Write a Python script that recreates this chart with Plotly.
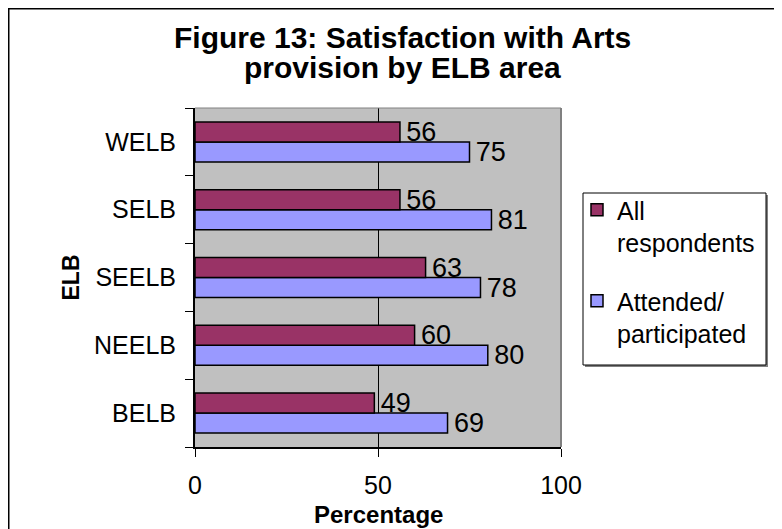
import plotly.graph_objects as go

categories = ["BELB", "NEELB", "SEELB", "SELB", "WELB"]
all_respondents = [49, 60, 63, 56, 56]
attended = [69, 80, 78, 81, 75]
series_names = ["All<br>respondents", "Attended/<br>participated"]
x_ticks = [0, 50, 100]
title_lines = ["Figure 13: Satisfaction with Arts", "provision by ELB area"]
x_title = "Percentage"
y_title = "ELB"

FONT = "Liberation Sans, Arial, sans-serif"
W, H = 782, 529
OFF = 8  # page body margin
# plot area in screen pixels
L, R, T, B = 195, 561, 108, 447


def px2x(p):
    return (p - L) / (R - L)


def py2y(p):
    return (B - p) / (B - T)


label_tmpl = "<span style='font-size:12px'>&nbsp;</span>%{x}"

fig = go.Figure()
fig.add_trace(go.Bar(
    y=categories, x=attended, orientation="h", name=series_names[1],
    marker=dict(color="#9999FF", line=dict(color="black", width=1.5)),
    texttemplate=label_tmpl, textposition="outside", legendgroup="b", legendrank=2,
    textfont=dict(size=27, color="black", family=FONT),
    constraintext="none", cliponaxis=False,
))
fig.add_trace(go.Bar(
    y=categories, x=all_respondents, orientation="h", name=series_names[0],
    marker=dict(color="#993366", line=dict(color="black", width=1.5)),
    texttemplate=label_tmpl, textposition="outside", legendgroup="a", legendrank=1,
    textfont=dict(size=27, color="black", family=FONT),
    constraintext="none", cliponaxis=False,
))

annotations = [
    dict(text="<b>%s</b>" % title_lines[0], xref="paper", yref="paper",
         x=px2x(402), y=py2y(38), xanchor="center", yanchor="middle",
         showarrow=False, font=dict(size=30, family=FONT, color="black")),
    dict(text="<b>%s</b>" % title_lines[1], xref="paper", yref="paper",
         x=px2x(402), y=py2y(68), xanchor="center", yanchor="middle",
         showarrow=False, font=dict(size=30, family=FONT, color="black")),
    dict(text="<b>%s</b>" % x_title, xref="paper", yref="paper",
         x=0.5, y=py2y(514), xanchor="center", yanchor="middle",
         showarrow=False, font=dict(size=24, family=FONT, color="black")),
]

fig.update_layout(
    width=W, height=H,
    margin=dict(l=L - OFF, r=W - (R - OFF), t=T - OFF, b=H - (B - OFF), autoexpand=False),
    paper_bgcolor="white",
    plot_bgcolor="#C0C0C0",
    barmode="group", bargap=0.41, bargroupgap=0,
    font=dict(family=FONT, size=24, color="black"),
    xaxis=dict(
        range=[0, 100], tickvals=x_ticks, ticktext=[str(v) for v in x_ticks],
        showgrid=True, gridcolor="black", gridwidth=1,
        showline=True, linecolor="black", linewidth=2,
        ticks="outside", ticklen=8, tickcolor="black", tickwidth=1,
        ticklabelstandoff=7,
        tickfont=dict(size=25),
        zeroline=False, fixedrange=True,
    ),
    yaxis=dict(
        type="category", categoryorder="array", categoryarray=categories,
        showline=True, linecolor="black", linewidth=2,
        ticks="outside", ticklen=8, tickcolor="black", tickson="boundaries",
        ticklabelstandoff=12,
        tickfont=dict(size=25),
        title=dict(text="<b>%s</b>" % y_title, font=dict(size=23), standoff=8),
        showgrid=False, fixedrange=True,
    ),
    showlegend=True,
    legend=dict(
        x=px2x(577), y=py2y(187), xanchor="left", yanchor="top",
        bgcolor="rgba(0,0,0,0)", borderwidth=0,
        traceorder="grouped", tracegroupgap=23, valign="top",
        font=dict(size=25, family=FONT),
        itemwidth=30,
    ),
    annotations=annotations,
    shapes=[
        dict(type="line", xref="paper", yref="paper", x0=1, x1=1, y0=0, y1=1,
             line=dict(color="#808080", width=2)),
        dict(type="line", xref="paper", yref="paper", x0=0, x1=1, y0=1, y1=1,
             line=dict(color="#808080", width=1)),
        # outer chart border
        dict(type="rect", xref="paper", yref="paper",
             x0=px2x(OFF + 0.75), x1=px2x(OFF + W - 0.75),
             y0=py2y(OFF + H - 0.75), y1=py2y(OFF + 0.75),
             line=dict(color="black", width=1.5), layer="below"),
        # legend box shadow and box
        dict(type="rect", xref="paper", yref="paper",
             x0=px2x(585), x1=px2x(768), y0=py2y(367), y1=py2y(195),
             fillcolor="#808080", line=dict(width=0), layer="below"),
        dict(type="rect", xref="paper", yref="paper",
             x0=px2x(583), x1=px2x(766), y0=py2y(365), y1=py2y(193),
             fillcolor="white", line=dict(color="black", width=1), layer="below"),
    ],
)

fig.write_html("out.html")
